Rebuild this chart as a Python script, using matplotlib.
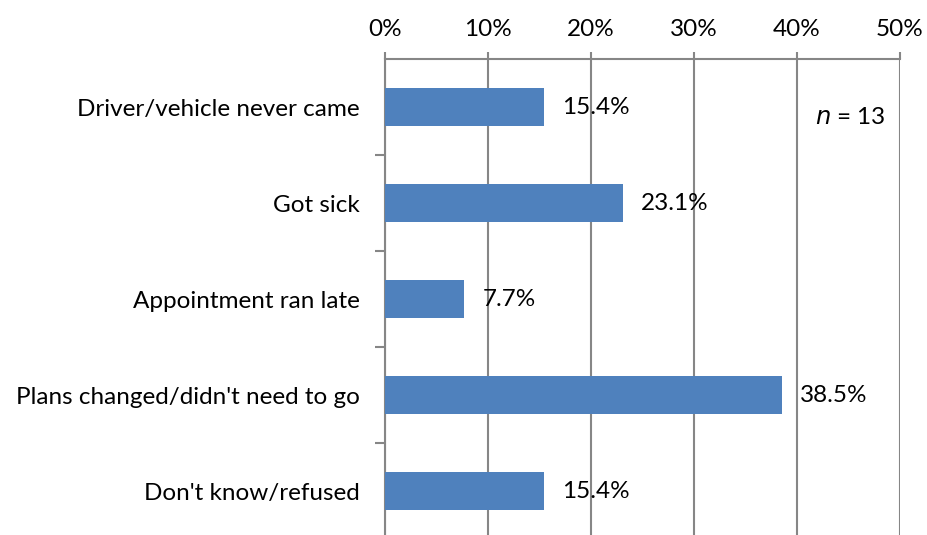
import matplotlib
matplotlib.use("Agg")
import matplotlib.pyplot as plt
from matplotlib.ticker import FuncFormatter

categories = ["Driver/vehicle never came", "Got sick", "Appointment ran late",
              "Plans changed/didn't need to go", "Don't know/refused"]
values = [15.4, 23.1, 7.7, 38.5, 15.4]
xticks = [0, 10, 20, 30, 40, 50]

plt.rcParams['font.family'] = ['Lato', 'DejaVu Sans']

W, H = 928, 535
fig = plt.figure(figsize=(W/100, H/100), dpi=100)
left, right = 385, 900
top, bottom = 59, 539
ax = fig.add_axes([left/W, 1 - bottom/H, (right-left)/W, (bottom-top)/H])

FS = 17.5
n = len(categories)
ypos = list(range(n))
ax.barh(ypos, values, height=0.4, color="#4F81BD", zorder=3)
ax.set_ylim(n - 0.5, -0.5)
ax.set_xlim(0, 50)

for y, v in zip(ypos, values):
    ax.annotate(f"{v:.1f}%", xy=(v, y), xytext=(13, 0), textcoords="offset points",
                va="center", ha="left", fontsize=FS, color="black", zorder=4)

ax.xaxis.tick_top()
ax.set_xticks(xticks)
ax.xaxis.set_major_formatter(FuncFormatter(lambda x, p: f"{x:.0f}%"))
ax.tick_params(axis='x', which='major', length=5, color="#868686", width=1.5,
               labelsize=FS, pad=9, direction='out')
ax.grid(axis='x', color="#868686", linewidth=1.5, zorder=0)

ax.set_yticks([i + 0.5 for i in range(n - 1)], minor=False)
ax.set_yticklabels([])
ax.set_yticks(ypos, minor=True)
ax.set_yticklabels(categories, minor=True)
ax.tick_params(axis='y', which='major', length=7, color="#868686", width=1.5, direction='out')
ax.tick_params(axis='y', which='minor', length=0, labelsize=FS, pad=18)

for s in ["right", "bottom"]:
    ax.spines[s].set_visible(False)
ax.spines["left"].set_color("#868686")
ax.spines["left"].set_linewidth(1.5)
ax.spines["top"].set_color("#868686")
ax.spines["top"].set_linewidth(1.5)

fig.text(886/W, 1 - 118/H, r"$\it{n}$ = 13", ha="right", va="center", fontsize=FS)

fig.savefig("out.png", dpi=100)
